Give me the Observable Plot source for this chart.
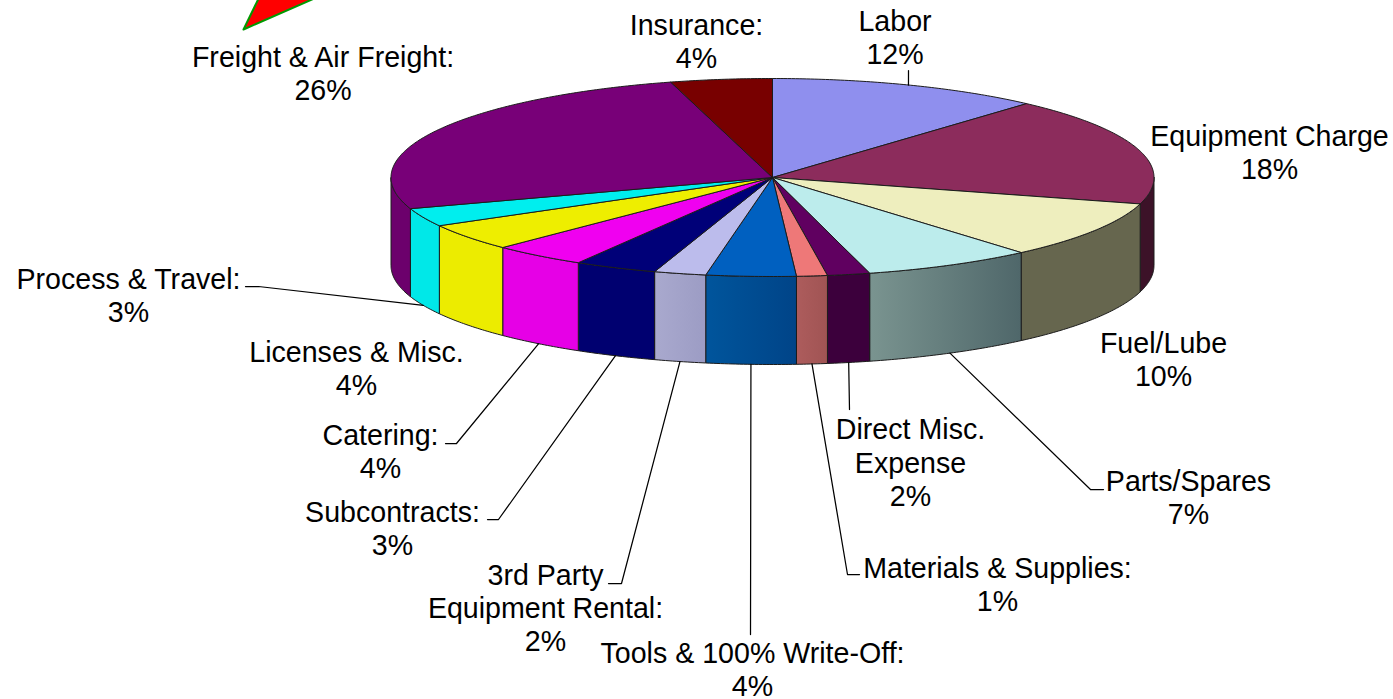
<!DOCTYPE html>
<html>
<head>
<meta charset="utf-8">
<style>html,body{margin:0;padding:0;background:#fff;overflow:hidden}</style>
<script src="https://cdn.jsdelivr.net/npm/d3@7"></script>
<script src="https://cdn.jsdelivr.net/npm/@observablehq/plot@0.6"></script>
</head>
<body>
<div id="chart"></div>
<script>
// ---- data ----
const categories = ["Labor","Equipment Charge","Fuel/Lube","Parts/Spares","Direct Misc. Expense","Materials & Supplies","Tools & 100% Write-Off","3rd Party Equipment Rental","Subcontracts","Catering","Licenses & Misc.","Process & Travel","Freight & Air Freight","Insurance"];
const shares = [11.6,17.7,9.4,7.2,1.8,1.3,3.8,2.2,3.5,4.0,4.4,3.0,25.8,4.3];
const labels = ["Labor\n12%","Equipment Charge\n18%","Fuel/Lube\n10%","Parts/Spares\n7%","Direct Misc.\nExpense\n2%","Materials & Supplies:\n1%","Tools & 100% Write-Off:\n4%","3rd Party\nEquipment Rental:\n2%","Subcontracts:\n3%","Catering:\n4%","Licenses & Misc.\n4%","Process & Travel:\n3%","Freight & Air Freight:\n26%","Insurance:\n4%"];

// ---- styles and layout ----
const topColors = ["#8f8fee","#8c2c5c","#eeeebe","#bcecec","#600060","#ee7878","#0060c0","#bcbcec","#000078","#f000f0","#eeee00","#00eeee","#780078","#780000"];
const wallColors = [["#5f5f9e","#5f5f9e"],["#3c1228","#3c1228"],["#66664e","#66664e"],["#7a9490","#4f676a"],["#3c003c","#3c003c"],["#ad5c5c","#a05454"],["#00559c","#004488"],["#a9a9ce","#9c9cc4"],["#000070","#000070"],["#e600e6","#e600e6"],["#ecec00","#ecec00"],["#00e8e8","#00e8e8"],["#6c006c","#6c006c"],["#500000","#500000"]];
const cx = 772, cy = 177, rx = 381.5, ry = 99, depth = 88;
const labelX = [894.5,1269,1163,1188,910,997,752,545,392,380,356,128,322.5,696];
const labelY = [38,152.5,359.5,497.5,463,584.5,669.5,608.5,528.5,452,368.5,295.5,73.5,41.5];
// leader routes: [slice index, elbow x, elbow y, end x, end y]
const leaderRoutes = [[0,908,70,908,70],[3,1090,489,1103,489],[4,849,409,849,409],[5,847,574,859,574],[6,750,634,750,634],[7,621,583,608,583],[8,498,519,487,519],[9,456,443,445,443],[11,258,286,245,286]];
const pointerTip = [{x:243,y:29},{x:262,y:-10},{x:332,y:-10},{x:243,y:29}];

// ---- geometry from the values ----
const total = d3.sum(shares);
let run = 0;
const slices = shares.map((v, i) => {
  const a0 = run / total * 2 * Math.PI; run += v;
  return {i, a0, a1: run / total * 2 * Math.PI};
});
const rim = (a, dz = 0) => ({x: cx + rx * Math.sin(a), y: cy - ry * Math.cos(a) + dz});
function arc(a0, a1, dz = 0) {
  const n = Math.max(2, Math.ceil((a1 - a0) / 0.01));
  return d3.range(n + 1).map(k => rim(a0 + (a1 - a0) * k / n, dz));
}
const topPolys = slices.map(s => [{x: cx, y: cy}, ...arc(s.a0, s.a1), {x: cx, y: cy}]);
const wallPolys = slices.map(s => {
  const a0 = Math.max(s.a0, Math.PI / 2), a1 = Math.min(s.a1, 3 * Math.PI / 2);
  if (a1 <= a0) return null;
  const up = arc(a0, a1), down = arc(a0, a1, depth).reverse();
  return [...up, ...down, up[0]];
});
const leaders = leaderRoutes.map(([i, ex, ey, fx, fy]) => {
  const s = slices[i], mid = (s.a0 + s.a1) / 2;
  const start = rim(mid, i === 0 ? 0 : depth);
  return [start, {x: ex, y: ey}, {x: fx, y: fy}];
});

const defs = () => {
  const d = d3.create("svg:defs");
  wallColors.forEach(([a, b], i) => {
    const g = d.append("linearGradient").attr("id", "wall" + i);
    g.append("stop").attr("offset", "0%").attr("stop-color", a);
    g.append("stop").attr("offset", "100%").attr("stop-color", b);
  });
  return d.node();
};

const outline = {x: "x", y: "y", stroke: "#1c1c1c", strokeWidth: 1, strokeLinejoin: "round", curve: "linear"};

const plot = Plot.plot({
  width: 1393, height: 699,
  marginTop: 0, marginRight: 0, marginBottom: 0, marginLeft: 0,
  x: {domain: [0, 1393], range: [0, 1393], axis: null},
  y: {domain: [0, 699], range: [0, 699], axis: null},
  style: {background: "#fff", overflow: "hidden"},
  marks: [
    defs,
    ...wallPolys.flatMap((p, i) => p ? [Plot.line(p, {...outline, fill: `url(#wall${i})`})] : []),
    ...topPolys.map((p, i) => Plot.line(p, {...outline, fill: topColors[i]})),
    ...leaders.map(p => Plot.line(p, {x: "x", y: "y", stroke: "#000", strokeWidth: 1.25, curve: "linear"})),
    Plot.line(pointerTip, {x: "x", y: "y", fill: "#ff0000", stroke: "#009a00", strokeWidth: 2, curve: "linear"}),
    Plot.text(labels, {
      x: (d, i) => labelX[i], y: (d, i) => labelY[i] - 1.5, text: d => d,
      fontFamily: "Liberation Sans, Arial, sans-serif", fontSize: 28.6, lineHeight: 1.165,
      textAnchor: "middle", lineAnchor: "middle", fill: "#000"
    })
  ]
});
document.getElementById("chart").appendChild(plot);
</script>
</body>
</html>
